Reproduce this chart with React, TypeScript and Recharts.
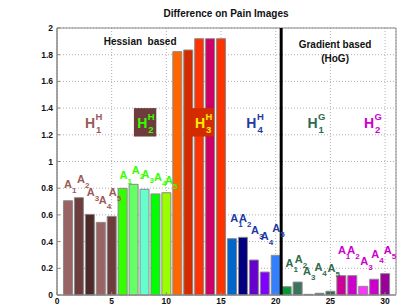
import {
  Bar,
  BarChart,
  CartesianGrid,
  Cell,
  ReferenceArea,
  ReferenceDot,
  ReferenceLine,
  XAxis,
  YAxis,
} from 'recharts';

const barIndex = [
  1, 2, 3, 4, 5, 6, 7, 8, 9, 10, 11, 12, 13, 14, 15, 16, 17, 18, 19, 20, 21, 22, 23, 24, 25, 26, 27, 28, 29, 30,
];
const diffValues = [
  0.706, 0.729, 0.604, 0.544, 0.589, 0.799, 0.829, 0.792, 0.757, 0.766, 1.823, 1.835, 1.92, 1.92, 1.92, 0.422,
  0.432, 0.262, 0.172, 0.297, 0.062, 0.097, 0.005, 0.013, 0.028, 0.145, 0.145, 0.065, 0.118, 0.16,
];
const barColors = [
  '#9b6464', '#6e3c3c', '#4d2a2a', '#9b6464', '#6e3c3c',
  '#33ff00', '#66ff66', '#66ffcc', '#00ff00', '#99ff00',
  '#ff6600', '#d42a00', '#ff3300', '#cc0066', '#ff3300',
  '#0066cc', '#000080', '#6600cc', '#8000ff', '#3380ff',
  '#009933', '#3d735c', '#2e5e46', '#2e5e46', '#2e6b4a',
  '#cc0099', '#cc00cc', '#ff33ff', '#cc00cc', '#990099',
];

const xTicks = [0, 5, 10, 15, 20, 25, 30];
const yTicks = [0, 0.2, 0.4, 0.6, 0.8, 1, 1.2, 1.4, 1.6, 1.8, 2];

// A_n labels above each group of bars (data coordinates)
const aLabelX = [
  1.0, 2.2, 3.08, 4.18, 5.1, 6.07, 7.2, 8.1, 9.24, 10.25, 16.2, 17.0, 18.1, 19.0, 20.04, 21.25, 22.1, 22.87, 23.9,
  25.1, 26.05, 26.9, 28.1, 29.1, 30.25,
];
const aLabelY = [
  0.8, 0.84, 0.74, 0.68, 0.74, 0.87, 0.91, 0.875, 0.855, 0.83, 0.545, 0.545, 0.46, 0.41, 0.47, 0.21, 0.237, 0.15,
  0.18, 0.175, 0.31, 0.31, 0.225, 0.275, 0.307,
];
const groupColors = ['#9b5a5a', '#33ff00', '#1f3a9f', '#2e6b4a', '#cc00cc'];

// H labels
const hLabelX = [3.02, 7.8, 13.08, 17.78, 23.36, 28.54];
const hLabelY = [1.25, 1.25, 1.25, 1.25, 1.25, 1.25];
const hSup = ['H', 'H', 'H', 'H', 'G', 'G'];
const hSub = ['1', '2', '3', '4', '1', '2'];
const hColors = ['#9b5a5a', '#33ff00', '#ffee00', '#1f3a9f', '#2e6b4a', '#cc00cc'];
const hBoxes = ['', '#6e3c3c', '#d42a00', '', '', ''];

const data = barIndex.map((x, i) => ({ x, value: diffValues[i] }));

const FONT = '"Liberation Sans", Arial, Helvetica, sans-serif';
const tickStyle = { fill: '#111', fontSize: 8.5, fontWeight: 'bold', fontFamily: FONT };

function ALabel({ cx, cy, n, color }: { cx: number; cy: number; n: number; color: string }) {
  return (
    <g fontFamily={FONT} fontWeight="bold" fill={color}>
      <text x={cx} y={cy} fontSize={11} textAnchor="middle">
        A
      </text>
      <text x={cx + 4} y={cy + 5} fontSize={8}>
        {n}
      </text>
    </g>
  );
}

function HLabel({ cx, cy, i }: { cx: number; cy: number; i: number }) {
  return (
    <g fontFamily={FONT} fontWeight="bold" fill={hColors[i]}>
      {hBoxes[i] && <rect x={cx - 8.4} y={cy - 20} width={22.4} height={28.4} fill={hBoxes[i]} />}
      <text x={cx} y={cy} fontSize={14} textAnchor="middle">
        H
      </text>
      <text x={cx + 5.5} y={cy - 8} fontSize={9.5}>
        {hSup[i]}
      </text>
      <text x={cx + 6} y={cy + 4.5} fontSize={9.5}>
        {hSub[i]}
      </text>
    </g>
  );
}

function TextAt({ cx, cy, text }: { cx: number; cy: number; text: string }) {
  return (
    <text
      x={cx}
      y={cy}
      fontFamily={FONT}
      fontWeight="bold"
      fontSize={10}
      fill="#111"
      textAnchor="middle"
      style={{ whiteSpace: 'pre' }}
    >
      {text}
    </text>
  );
}

export default function App() {
  return (
    <div style={{ position: 'absolute', left: 0, top: 0, width: 399, height: 306, background: '#fff' }}>
      <div
        style={{
          position: 'absolute',
          left: 126,
          width: 200,
          top: 8,
          textAlign: 'center',
          fontFamily: FONT,
          fontWeight: 'bold',
          fontSize: 10,
          color: '#111',
        }}
      >
        Difference on Pain Images
      </div>
      <BarChart width={399} height={306} data={data} margin={{ top: 28, right: 3, left: 0, bottom: 0 }}>
        <CartesianGrid stroke="#b0b0b0" strokeDasharray="1 2" />
        <XAxis
          dataKey="x"
          type="number"
          domain={[0, 31]}
          ticks={xTicks}
          height={11}
          tickSize={-3}
          tickMargin={6}
          stroke="#888"
          tick={tickStyle}
        />
        <YAxis
          type="number"
          domain={[0, 2]}
          ticks={yTicks}
          width={57}
          tickSize={-3}
          tickMargin={7}
          stroke="#888"
          tickFormatter={(v) => String(v)}
          tick={tickStyle}
        />
        <ReferenceArea x1={0} x2={31} y1={0} y2={2} fill="none" stroke="#888" strokeWidth={1} />
        <Bar dataKey="value" barSize={9} stroke="#8a8a8a" strokeWidth={1} isAnimationActive={false}>
          {data.map((d, i) => (
            <Cell key={d.x} fill={barColors[i]} />
          ))}
        </Bar>
        <ReferenceLine x={20.5} stroke="#000" strokeWidth={3} />
        {aLabelX.map((x, i) => (
          <ReferenceDot
            key={'a' + i}
            x={x}
            y={aLabelY[i]}
            r={0}
            shape={(p: any) => <ALabel cx={p.cx} cy={p.cy} n={(i % 5) + 1} color={groupColors[Math.floor(i / 5)]} />}
          />
        ))}
        {hLabelX.map((x, i) => (
          <ReferenceDot key={'h' + i} x={x} y={hLabelY[i]} r={0} shape={(p: any) => <HLabel cx={p.cx} cy={p.cy} i={i} />} />
        ))}
        <ReferenceDot x={7.6} y={1.873} r={0} shape={(p: any) => <TextAt cx={p.cx} cy={p.cy} text="Hessian  based" />} />
        <ReferenceDot x={25.43} y={1.848} r={0} shape={(p: any) => <TextAt cx={p.cx} cy={p.cy} text="Gradient based" />} />
        <ReferenceDot x={25.43} y={1.748} r={0} shape={(p: any) => <TextAt cx={p.cx} cy={p.cy} text="(HoG)" />} />
      </BarChart>
    </div>
  );
}
